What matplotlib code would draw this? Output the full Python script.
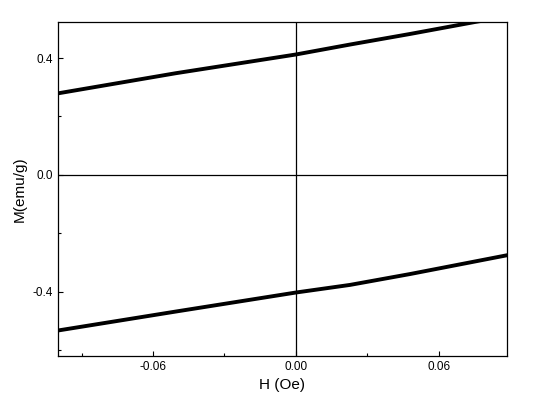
import matplotlib.pyplot as plt
from matplotlib.ticker import MultipleLocator, FormatStrFormatter

plt.rcParams['font.family'] = ['Liberation Sans', 'DejaVu Sans']

# upper branch (H, M)
h_upper = [-0.1, -0.0504, 0.0, 0.0227, 0.0478, 0.0751, 0.09]
m_upper = [0.279, 0.348, 0.412, 0.446, 0.482, 0.523, 0.544]

# lower branch
h_lower = [-0.1, -0.0504, 0.0, 0.0227, 0.0478, 0.089]
m_lower = [-0.532, -0.467, -0.402, -0.376, -0.339, -0.274]

fig = plt.figure(figsize=(5.48, 4.08), dpi=100)
ax = fig.add_axes([0.1058, 0.1275, 0.8192, 0.8185])

ax.plot(h_upper, m_upper, color="black", lw=2.8)
ax.plot(h_lower, m_lower, color="black", lw=2.8)
ax.axhline(0, color="black", lw=0.9)
ax.axvline(0, color="black", lw=0.9)

ax.set_xlim(-0.0999, 0.0886)
ax.set_ylim(-0.619, 0.523)

ax.xaxis.set_major_locator(MultipleLocator(0.06))
ax.xaxis.set_minor_locator(MultipleLocator(0.03))
ax.yaxis.set_major_locator(MultipleLocator(0.4))
ax.yaxis.set_minor_locator(MultipleLocator(0.2))
ax.xaxis.set_major_formatter(FormatStrFormatter('%.2f'))
ax.yaxis.set_major_formatter(FormatStrFormatter('%.1f'))

ax.tick_params(which='both', direction='in', labelsize=8.5, top=False, right=False)
ax.tick_params(which='major', length=3.5, width=0.8)
ax.tick_params(which='minor', length=2, width=0.8)
for s in ax.spines.values():
    s.set_linewidth(0.9)

ax.set_xlabel("H (Oe)", fontsize=11)
ax.set_ylabel("M(emu/g)", fontsize=11)

fig.savefig("out.png", dpi=100)
